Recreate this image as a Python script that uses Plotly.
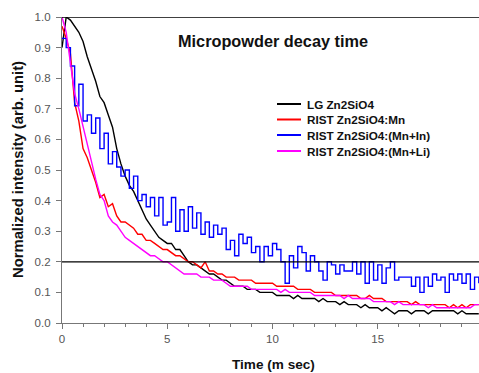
import plotly.graph_objects as go

time_ms = [round(i * 0.2, 1) for i in range(100)]

lg_zn2sio4 = [
    0.90, 1.00, 0.99, 0.97, 0.95, 0.92, 0.87, 0.83, 0.79, 0.74,
    0.72, 0.68, 0.64, 0.57, 0.52, 0.48, 0.45, 0.43, 0.40, 0.37,
    0.34, 0.32, 0.30, 0.28, 0.27, 0.26, 0.26, 0.24, 0.24, 0.22,
    0.20, 0.19, 0.19, 0.18, 0.17, 0.16, 0.16, 0.15, 0.14, 0.14,
    0.13, 0.12, 0.12, 0.12, 0.11, 0.11, 0.11, 0.10, 0.10, 0.10,
    0.10, 0.09, 0.09, 0.09, 0.09, 0.08, 0.09, 0.08, 0.08, 0.08,
    0.08, 0.07, 0.08, 0.07, 0.07, 0.07, 0.06, 0.07, 0.06, 0.06,
    0.06, 0.05, 0.06, 0.05, 0.05, 0.05, 0.04, 0.05, 0.04, 0.03,
    0.04, 0.04, 0.04, 0.03, 0.04, 0.04, 0.04, 0.03, 0.04, 0.04,
    0.04, 0.04, 0.04, 0.04, 0.03, 0.04, 0.03, 0.03, 0.03, 0.03,
]

rist_mn = [
    0.97, 0.93, 0.88, 0.72, 0.66, 0.57, 0.54, 0.50, 0.46, 0.41,
    0.42, 0.38, 0.39, 0.35, 0.33, 0.33, 0.32, 0.31, 0.29, 0.29,
    0.27, 0.27, 0.26, 0.25, 0.24, 0.24, 0.23, 0.22, 0.22, 0.21,
    0.20, 0.20, 0.19, 0.18, 0.20, 0.17, 0.17, 0.16, 0.16, 0.15,
    0.15, 0.15, 0.14, 0.14, 0.14, 0.14, 0.13, 0.13, 0.13, 0.13,
    0.13, 0.12, 0.12, 0.12, 0.12, 0.12, 0.11, 0.11, 0.11, 0.11,
    0.10, 0.10, 0.10, 0.10, 0.10, 0.09, 0.09, 0.09, 0.09, 0.09,
    0.09, 0.08, 0.08, 0.09, 0.08, 0.08, 0.08, 0.07, 0.07, 0.07,
    0.07, 0.07, 0.07, 0.06, 0.07, 0.06, 0.06, 0.06, 0.06, 0.06,
    0.06, 0.06, 0.05, 0.06, 0.05, 0.06, 0.05, 0.06, 0.06, 0.06,
]

rist_mn_in = [
    0.93, 0.90, 0.84, 0.71, 0.78, 0.66, 0.68, 0.62, 0.67, 0.57,
    0.62, 0.52, 0.56, 0.51, 0.48, 0.50, 0.44, 0.48, 0.40, 0.42,
    0.38, 0.41, 0.35, 0.41, 0.32, 0.33, 0.41, 0.30, 0.37, 0.30,
    0.38, 0.31, 0.36, 0.29, 0.33, 0.28, 0.32, 0.29, 0.31, 0.24,
    0.27, 0.22, 0.29, 0.26, 0.28, 0.23, 0.25, 0.20, 0.25, 0.22,
    0.26, 0.24, 0.20, 0.13, 0.22, 0.18, 0.25, 0.23, 0.17, 0.22,
    0.20, 0.17, 0.14, 0.20, 0.19, 0.16, 0.19, 0.17, 0.17, 0.20,
    0.16, 0.20, 0.13, 0.20, 0.14, 0.19, 0.13, 0.18, 0.20, 0.14,
    0.15, 0.15, 0.15, 0.12, 0.15, 0.10, 0.15, 0.12, 0.16, 0.14,
    0.15, 0.10, 0.16, 0.14, 0.16, 0.13, 0.16, 0.11, 0.15, 0.13,
]

rist_mn_li = [
    1.00, 0.95, 0.85, 0.75, 0.70, 0.64, 0.58, 0.52, 0.47, 0.42,
    0.40, 0.35, 0.33, 0.32, 0.30, 0.28, 0.27, 0.26, 0.25, 0.24,
    0.23, 0.22, 0.22, 0.21, 0.20, 0.20, 0.19, 0.18, 0.17, 0.16,
    0.16, 0.16, 0.16, 0.15, 0.15, 0.15, 0.14, 0.14, 0.14, 0.13,
    0.12, 0.12, 0.12, 0.12, 0.12, 0.11, 0.11, 0.11, 0.11, 0.11,
    0.11, 0.11, 0.10, 0.11, 0.10, 0.10, 0.10, 0.10, 0.10, 0.10,
    0.09, 0.09, 0.09, 0.09, 0.09, 0.09, 0.09, 0.08, 0.09, 0.08,
    0.08, 0.08, 0.08, 0.08, 0.07, 0.07, 0.07, 0.07, 0.07, 0.06,
    0.07, 0.06, 0.06, 0.06, 0.06, 0.06, 0.06, 0.05, 0.06, 0.05,
    0.05, 0.05, 0.05, 0.05, 0.05, 0.05, 0.05, 0.05, 0.06, 0.06,
]

series_names = ["LG Zn2SiO4", "RIST Zn2SiO4:Mn", "RIST Zn2SiO4:(Mn+In)", "RIST Zn2SiO4:(Mn+Li)"]
series_colors = ["#000000", "#ff0000", "#0000ff", "#ff00ff"]
x_ticks = [0, 5, 10, 15, 20]
y_ticks = [0.0, 0.1, 0.2, 0.3, 0.4, 0.5, 0.6, 0.7, 0.8, 0.9, 1.0]
ref_level = 0.2

FONT = "Liberation Sans, Arial, sans-serif"
W, H = 479, 373
ML, MR, MT, MB = 62, 0, 17, 50
PW, PH = W - ML - MR, H - MT - MB


def px_x(px):
    return (px - ML) / PW


def px_y(py):
    return (H - MB - py) / PH


fig = go.Figure()
for name, ys, col in zip(series_names, [lg_zn2sio4, rist_mn, rist_mn_in, rist_mn_li], series_colors):
    fig.add_trace(go.Scatter(
        x=time_ms, y=ys, name=name, mode="lines", showlegend=False,
        line=dict(color=col, width=1.4, shape="hv" if col == "#0000ff" else "linear"),
    ))

fig.add_shape(type="line", xref="paper", x0=0, x1=1, yref="y", y0=ref_level, y1=ref_level,
              line=dict(color="black", width=1.3))
fig.add_shape(type="line", xref="paper", x0=0, x1=1, yref="y", y0=1.0, y1=1.0,
              line=dict(color="black", width=1.3))

annotations = [
    dict(text="Micropowder decay time", xref="paper", yref="paper", x=px_x(272.5), y=px_y(41),
         xanchor="center", yanchor="middle", showarrow=False,
         font=dict(family=FONT, size=16.3, color="#111", weight="bold")),
    dict(text="Time (m sec)", xref="paper", yref="paper", x=px_x(273.5), y=px_y(364),
         xanchor="center", yanchor="middle", showarrow=False,
         font=dict(family=FONT, size=13.6, color="#111", weight="bold")),
    dict(text="Normalized intensity (arb. unit)", xref="paper", yref="paper", x=px_x(18), y=px_y(170),
         xanchor="center", yanchor="middle", textangle=-90, showarrow=False,
         font=dict(family=FONT, size=14.8, color="#111", weight="bold")),
]

legend_rows = [104, 119.5, 135, 151]
for name, col, ry in zip(series_names, series_colors, legend_rows):
    fig.add_shape(type="line", xref="paper", yref="paper",
                  x0=px_x(277), x1=px_x(301), y0=px_y(ry), y1=px_y(ry),
                  line=dict(color=col, width=2))
    annotations.append(dict(text=name, xref="paper", yref="paper", x=px_x(305), y=px_y(ry),
                            xanchor="left", yanchor="middle", showarrow=False,
                            font=dict(family=FONT, size=11.7, color="#111", weight="bold")))

fig.update_layout(
    width=W, height=H,
    margin=dict(l=ML, r=MR, t=MT, b=MB, autoexpand=False),
    paper_bgcolor="white", plot_bgcolor="white",
    font=dict(family=FONT, color="#444"),
    showlegend=False,
    xaxis=dict(
        range=[0, 19.81], tickvals=x_ticks, ticks="outside", ticklen=5, tickcolor="#777",
        showline=True, linecolor="#777", linewidth=1.2, showgrid=False, zeroline=False,
        tickfont=dict(size=11.5, color="#555"), automargin=False,
        minor=dict(dtick=1, ticks="outside", ticklen=2.5, tickcolor="#777", showgrid=False),
    ),
    yaxis=dict(
        range=[0, 1.0], tickvals=y_ticks, tickformat=".1f", ticks="outside", ticklen=5,
        tickcolor="#777", showline=True, linecolor="#777", linewidth=1.2, showgrid=False,
        zeroline=False, tickfont=dict(size=11.5, color="#555"), automargin=False,
        ticklabelstandoff=3,
    ),
    annotations=annotations,
)

fig.write_html("out.html", config={"displayModeBar": False},
               post_script="document.body.style.margin='0';document.body.style.padding='0';")
